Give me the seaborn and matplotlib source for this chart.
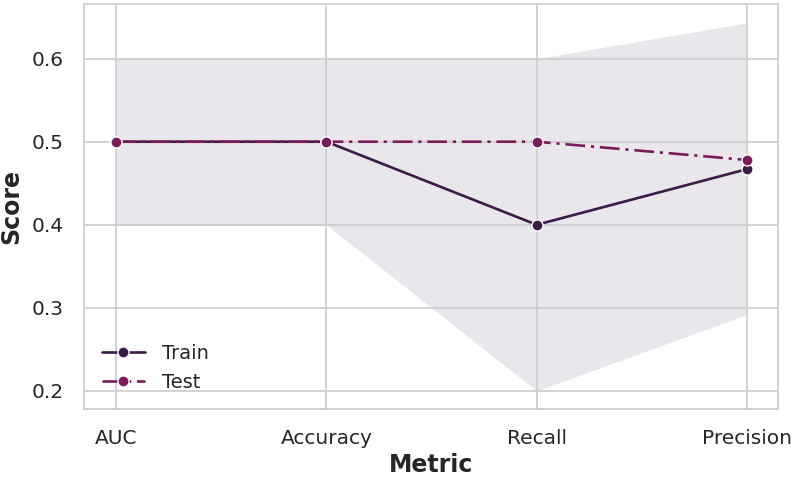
import numpy as np
import pandas as pd
import matplotlib
matplotlib.use("Agg")
import matplotlib.pyplot as plt
import seaborn as sns

# Chart values
metrics = ["AUC", "Accuracy", "Recall", "Precision"]
train_scores = [0.5, 0.5, 0.4, 0.467]
test_scores = [0.5, 0.5, 0.5, 0.478]
band_lower = [0.4, 0.4, 0.2, 0.292]
band_upper = [0.6, 0.6, 0.6, 0.643]

train_color = "#3b1b47"
test_color = "#7a1c5c"
band_color = "#e9e7eb"


def build_frame():
    rows = []
    for m, v in zip(metrics, train_scores):
        rows.append({"Metric": m, "Score": v, "Set": "Train"})
    for m, v in zip(metrics, test_scores):
        rows.append({"Metric": m, "Score": v, "Set": "Test"})
    return pd.DataFrame(rows)


def plot_scores(df):
    sns.set_theme(style="whitegrid")
    plt.rcParams["font.family"] = ["DejaVu Sans"]

    fig, ax = plt.subplots(figsize=(7.94, 4.78), dpi=100)
    fig.subplots_adjust(left=0.106, right=0.98, top=0.992, bottom=0.144)

    # Confidence band around the train curve (kept under the grid)
    ax.fill_between(np.arange(len(metrics)), band_lower, band_upper,
                    color=band_color, linewidth=0, zorder=0.2)

    sns.lineplot(data=df, x="Metric", y="Score", hue="Set", style="Set",
                 palette={"Train": train_color, "Test": test_color},
                 dashes={"Train": "", "Test": (7.5, 2.2, 1.2, 2.2)},
                 markers={"Train": "o", "Test": "o"},
                 markersize=8, markeredgecolor="white", markeredgewidth=1,
                 linewidth=1.9, ax=ax, zorder=3)

    ax.set_xlim(-0.152, 3.148)
    ax.set_ylim(0.178, 0.666)
    ax.set_yticks([0.2, 0.3, 0.4, 0.5, 0.6])
    ax.set_yticklabels(["0.2", "0.3", "0.4", "0.5", "0.6"])
    ax.set_xlabel("Metric", fontsize=17, fontweight="bold", labelpad=4)
    ax.set_ylabel("Score", fontsize=17, fontweight="bold", labelpad=6)
    ax.tick_params(axis="both", labelsize=14.5, colors="#262626")
    ax.tick_params(axis="y", pad=9)
    ax.tick_params(axis="x", pad=8)

    for side in ["left", "right", "top", "bottom"]:
        ax.spines[side].set_visible(True)
        ax.spines[side].set_color("#cccccc")
        ax.spines[side].set_linewidth(1.2)
    ax.set_axisbelow(True)
    ax.grid(True, color="#cccccc", linewidth=1.2, zorder=0.5)

    handles, labels = ax.get_legend_handles_labels()
    ax.legend(handles=handles, labels=labels, loc="lower left", frameon=False,
              fontsize=14, handlelength=2.2, handletextpad=0.9,
              borderaxespad=0.3, bbox_to_anchor=(0.006, 0.01))

    fig.savefig("out.png", dpi=100)


if __name__ == "__main__":
    plot_scores(build_frame())
